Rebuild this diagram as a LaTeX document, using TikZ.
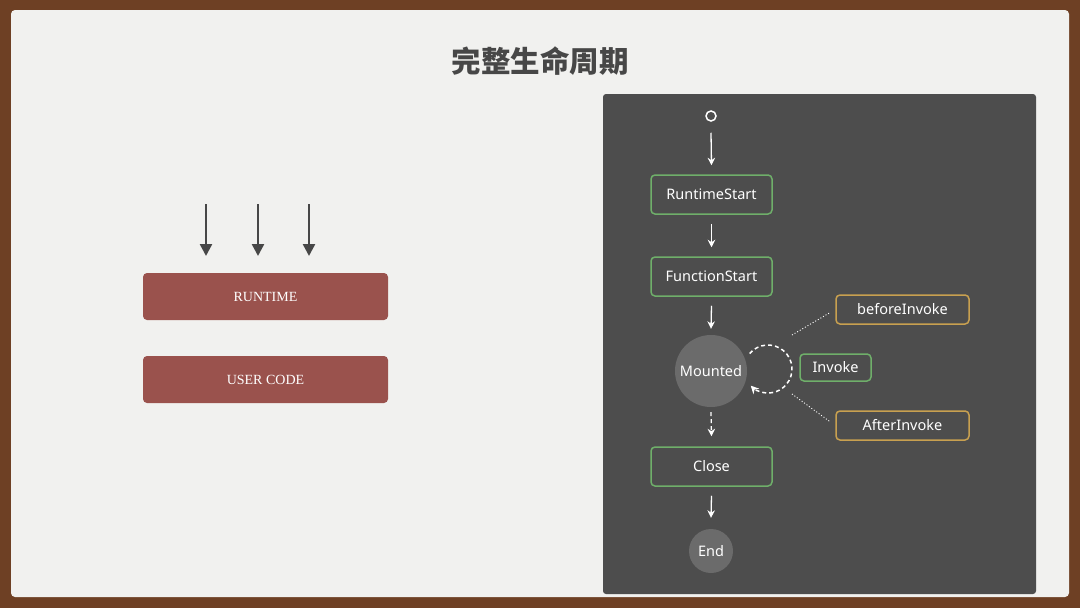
\documentclass[tikz,border=0pt]{standalone}
\usepackage{fontspec}
\setmainfont{Liberation Serif}
\setsansfont{Noto Sans}
\newfontfamily\cjk{Noto Sans CJK SC}
\usetikzlibrary{arrows.meta,calc}
\definecolor{frame}{HTML}{6E4024}
\definecolor{paper}{HTML}{F1F1EF}
\definecolor{panel}{HTML}{4D4D4D}
\definecolor{gborder}{HTML}{6FAF6A}
\definecolor{yborder}{HTML}{C8A050}
\definecolor{redbox}{HTML}{9A524D}
\definecolor{greyc}{HTML}{6B6B6B}
\definecolor{titlec}{HTML}{474747}
\begin{document}
\begin{tikzpicture}[x=1pt,y=-1pt,
  greenbox/.style={draw=gborder,line width=1.5pt,rounded corners=4pt,fill=panel,text=white,font=\sffamily\fontsize{14.5}{16}\selectfont,inner sep=0pt},
  goldbox/.style={draw=yborder,line width=1.5pt,rounded corners=4pt,fill=panel,text=white,font=\sffamily\fontsize{14.5}{16}\selectfont,inner sep=0pt,minimum width=133pt,minimum height=29pt},
  redrect/.style={fill=redbox,rounded corners=4pt,text=white,font=\rmfamily\fontsize{14}{16}\selectfont,minimum width=245pt,minimum height=47pt,inner sep=0pt},
  greycirc/.style={circle,fill=greyc,text=white,font=\sffamily\fontsize{14.5}{16}\selectfont,inner sep=0pt},
  warrow/.style={draw=white,line width=1.3pt,-{Stealth[length=7.5pt,width=7.5pt]}},
  darrow/.style={draw=titlec,line width=2.5pt,-{Triangle[length=12pt,width=12pt]}},
  dotline/.style={draw=white,line width=0.9pt,dash pattern=on 1pt off 2pt,shorten >=6pt},
]
\useasboundingbox (0,0) rectangle (1080,608);
\fill[frame] (0,0) rectangle (1080,608);
\fill[paper,rounded corners=4pt] (11,10) rectangle (1069,597);
\node[font=\cjk\bfseries\fontsize{29.5}{32}\selectfont,text=titlec] (title) at (540,61) {完整生命周期};

% left side
\node[redrect] (runtime) at (265.5,296.5) {RUNTIME};
\node[redrect] (usercode) at (265.5,379.5) {USER CODE};
\coordinate (a1) at (206,204);
\coordinate (a2) at (258,204);
\coordinate (a3) at (309,204);
\coordinate (b1) at (206,256);
\coordinate (b2) at (258,256);
\coordinate (b3) at (309,256);
\draw[darrow] (a1) -- (b1);
\draw[darrow] (a2) -- (b2);
\draw[darrow] (a3) -- (b3);

% right panel
\fill[panel,rounded corners=3pt] (603,94) rectangle (1036,594);
\node[circle,draw=white,line width=1.5pt,minimum size=10pt,inner sep=0pt] (start) at (711,116) {};
\node[greenbox,minimum width=121pt,minimum height=39pt] (rs) at (711.5,194.5) {RuntimeStart};
\node[greenbox,minimum width=121pt,minimum height=39pt] (fs) at (711.5,276.5) {FunctionStart};
\node[greycirc,minimum size=72pt] (mounted) at (711,371) {Mounted};
\node[greenbox,minimum width=71pt,minimum height=27pt] (invoke) at (835.5,367.5) {Invoke};
\node[goldbox] (before) at (902.5,309.5) {beforeInvoke};
\node[goldbox] (after) at (902.5,425.5) {AfterInvoke};
\node[greenbox,minimum width=121pt,minimum height=39pt] (close) at (711.5,466.5) {Close};
\node[greycirc,minimum size=44pt] (end) at (711,551) {End};

\draw[warrow] ([yshift=-11pt]start.south) -- ([yshift=9pt]rs.north);
\draw[warrow] ([yshift=-9pt]rs.south) -- ([yshift=9pt]fs.north);
\draw[warrow] ([yshift=-9pt]fs.south) -- ([yshift=6pt]mounted.north);
\draw[warrow,dash pattern=on 4pt off 3pt] ([yshift=-5pt]mounted.south) -- ([yshift=10pt]close.north);
\draw[warrow] ([yshift=-9pt]close.south) -- ([yshift=11pt]end.north);

% self loop
\coordinate (loopc) at (768,369);
\draw[draw=white,line width=1.5pt,dash pattern=on 4pt off 3pt,-{Stealth[length=8pt,width=8pt]}]
  ([shift={(140:24pt)}]loopc) arc[start angle=140, end angle=-136, radius=24pt];

\coordinate (d1s) at (792,335);
\coordinate (d2s) at (792,394);
\draw[dotline] (d1s) -- (before.west);
\draw[dotline] (d2s) -- (after.west);
\end{tikzpicture}
\end{document}
